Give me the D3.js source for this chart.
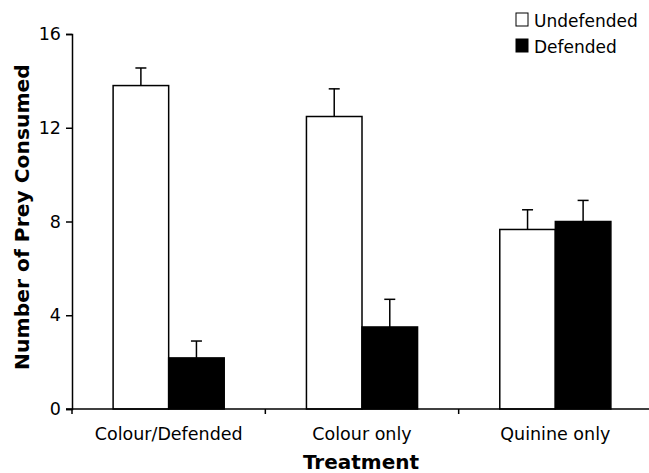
<!DOCTYPE html>
<html>
<head>
<meta charset="utf-8">
<script src="https://cdn.jsdelivr.net/npm/d3@7"></script>
<style>
  body { margin: 0; background: #fff; }
  svg { display: block; font-family: "DejaVu Sans", Verdana, sans-serif; }
</style>
</head>
<body>
<svg id="chart" width="649" height="473"></svg>
<script>
const categories = ["Colour/Defended", "Colour only", "Quinine only"];
const seriesNames = ["Undefended", "Defended"];
const undefended = [13.8, 12.48, 7.66];
const undefendedSE = [0.75, 1.18, 0.84];
const defended = [2.18, 3.5, 8.0];
const defendedSE = [0.72, 1.18, 0.9];
const yTicks = [0, 4, 8, 12, 16];

let svg = d3.select("#chart");
let fills = { "Undefended": "#ffffff", "Defended": "#000000" };

let rows = [];
categories.forEach((c, i) => {
    rows.push({ cat: c, s: "Undefended", v: undefended[i], se: undefendedSE[i] });
    rows.push({ cat: c, s: "Defended", v: defended[i], se: defendedSE[i] });
});

let x0 = d3.scaleBand()
    .domain(categories)
    .range([72, 652])
    .padding(0);

let x1 = d3.scaleBand()
    .domain(seriesNames)
    .range([0, x0.bandwidth()])
    .paddingInner(0)
    .paddingOuter(0.74);

let y = d3.scaleLinear()
    .domain([0, 16])
    .range([409, 34]);

// y axis
let yAxis = d3.axisLeft(y)
    .tickValues(yTicks)
    .tickSize(6)
    .tickPadding(5)
    .tickFormat(d3.format("d"));

let yG = svg.append("g")
    .attr("transform", "translate(72,0)")
    .call(yAxis);
yG.select(".domain").attr("stroke", "#000").attr("stroke-width", 1.5);
yG.selectAll(".tick line").attr("stroke", "#000").attr("stroke-width", 1.5);
yG.selectAll(".tick text")
    .attr("fill", "#000")
    .style("font-size", "17.5px")
    .style("font-family", "DejaVu Sans, Verdana, sans-serif");

// bars
svg.append("g")
    .selectAll("rect")
    .data(rows)
    .join("rect")
    .attr("x", d => x0(d.cat) + x1(d.s))
    .attr("y", d => y(d.v))
    .attr("width", x1.bandwidth())
    .attr("height", d => y(0) - y(d.v))
    .attr("fill", d => fills[d.s])
    .attr("stroke", "#000")
    .attr("stroke-width", 1.5);

// error bars (upper only)
let err = svg.append("g")
    .selectAll("g")
    .data(rows)
    .join("g");
err.append("line")
    .attr("x1", d => x0(d.cat) + x1(d.s) + x1.bandwidth() / 2)
    .attr("x2", d => x0(d.cat) + x1(d.s) + x1.bandwidth() / 2)
    .attr("y1", d => y(d.v))
    .attr("y2", d => y(d.v + d.se))
    .attr("stroke", "#000")
    .attr("stroke-width", 1.5);
err.append("line")
    .attr("x1", d => x0(d.cat) + x1(d.s) + x1.bandwidth() / 2 - 5.5)
    .attr("x2", d => x0(d.cat) + x1(d.s) + x1.bandwidth() / 2 + 5.5)
    .attr("y1", d => y(d.v + d.se))
    .attr("y2", d => y(d.v + d.se))
    .attr("stroke", "#000")
    .attr("stroke-width", 1.5);

// x axis
let xG = svg.append("g")
    .attr("transform", `translate(0, ${y(0)})`);
xG.append("line")
    .attr("x1", 66)
    .attr("x2", 652)
    .attr("stroke", "#000")
    .attr("stroke-width", 1.5);
xG.selectAll(".xtick")
    .data(categories.concat(["end"]))
    .join("line")
    .attr("class", "xtick")
    .attr("x1", (d, i) => i < categories.length ? x0(d) : x0.range()[1])
    .attr("x2", (d, i) => i < categories.length ? x0(d) : x0.range()[1])
    .attr("y1", 0)
    .attr("y2", 5)
    .attr("stroke", "#000")
    .attr("stroke-width", 1.5);
xG.selectAll(".xlabel")
    .data(categories)
    .join("text")
    .attr("class", "xlabel")
    .attr("x", d => x0(d) + x0.bandwidth() / 2)
    .attr("y", 31)
    .attr("text-anchor", "middle")
    .style("font-size", "17.5px")
    .text(d => d);

// axis titles
svg.append("text")
    .attr("x", 361)
    .attr("y", 469)
    .attr("text-anchor", "middle")
    .style("font-size", "20px")
    .style("font-weight", "bold")
    .text("Treatment");

svg.append("text")
    .attr("transform", "translate(29,217) rotate(-90)")
    .attr("text-anchor", "middle")
    .style("font-size", "20.3px")
    .style("font-weight", "bold")
    .text("Number of Prey Consumed");

// legend
let legend = svg.append("g")
    .selectAll("g")
    .data(seriesNames)
    .join("g")
    .attr("transform", (d, i) => `translate(516, ${13 + i * 26})`);
legend.append("rect")
    .attr("width", 12)
    .attr("height", 13)
    .attr("fill", d => fills[d])
    .attr("stroke", "#000")
    .attr("stroke-width", 1);
legend.append("text")
    .attr("x", 18)
    .attr("y", 13.5)
    .style("font-size", "17px")
    .text(d => d);
</script>
</body>
</html>
